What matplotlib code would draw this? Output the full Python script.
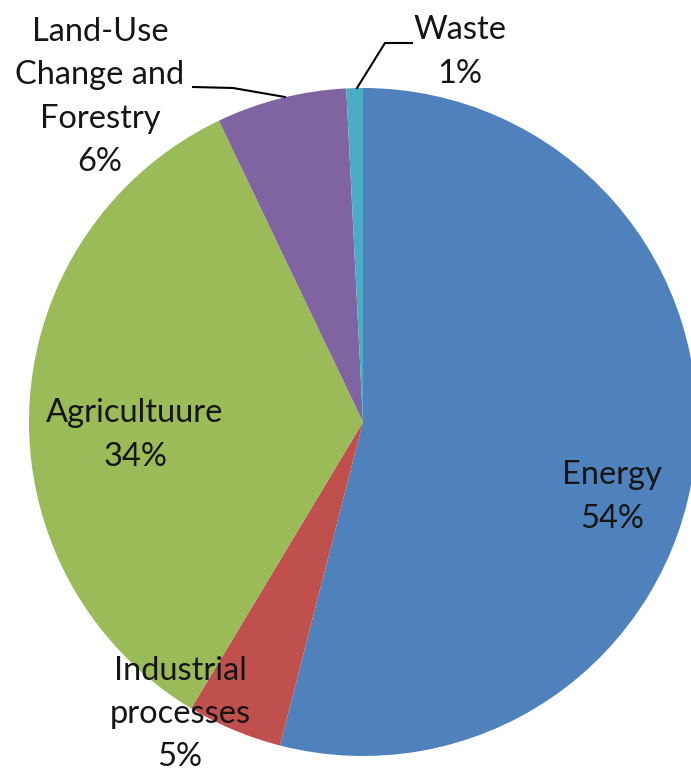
import matplotlib.pyplot as plt

W, H = 691, 774

sectors = ["Energy", "Industrial\nprocesses", "Agricultuure",
           "Land-Use\nChange and\nForestry", "Waste"]
shares = [54.0, 4.6, 34.3, 6.3, 0.8]
shown_pct = ["54%", "5%", "34%", "6%", "1%"]
colors = ["#4F81BD", "#C0504D", "#9BBB59", "#8064A2", "#4BACC6"]

# label centres in pixel coords (top-left origin)
label_pos = [(612, 497), (180, 714), (135, 435), (100, 97), (460, 52)]


def px(x, y):
    return x, H - y


fig = plt.figure(figsize=(W / 100, H / 100), dpi=100)
ax = fig.add_axes([0, 0, 1, 1])

ax.pie(shares, colors=colors, startangle=90, counterclock=False,
       center=px(363, 422), radius=334, frame=True,
       wedgeprops=dict(linewidth=0))
ax.set_xlim(0, W)
ax.set_ylim(0, H)
ax.set_aspect("equal")
ax.axis("off")

for name, pct, pos in zip(sectors, shown_pct, label_pos):
    x, y = px(*pos)
    ax.text(x, y, name + "\n" + pct, ha="center", va="center",
            fontsize=23.5, family="Lato", color="#151515", linespacing=1.55)

# leader lines
lx, ly = zip(*[px(193, 87), px(233, 88), px(285, 97)])
ax.plot(lx, ly, color="black", lw=1.5)
wx, wy = zip(*[px(357, 88), px(385, 43), px(412, 43)])
ax.plot(wx, wy, color="black", lw=1.5)

fig.savefig("out.png", dpi=100)
